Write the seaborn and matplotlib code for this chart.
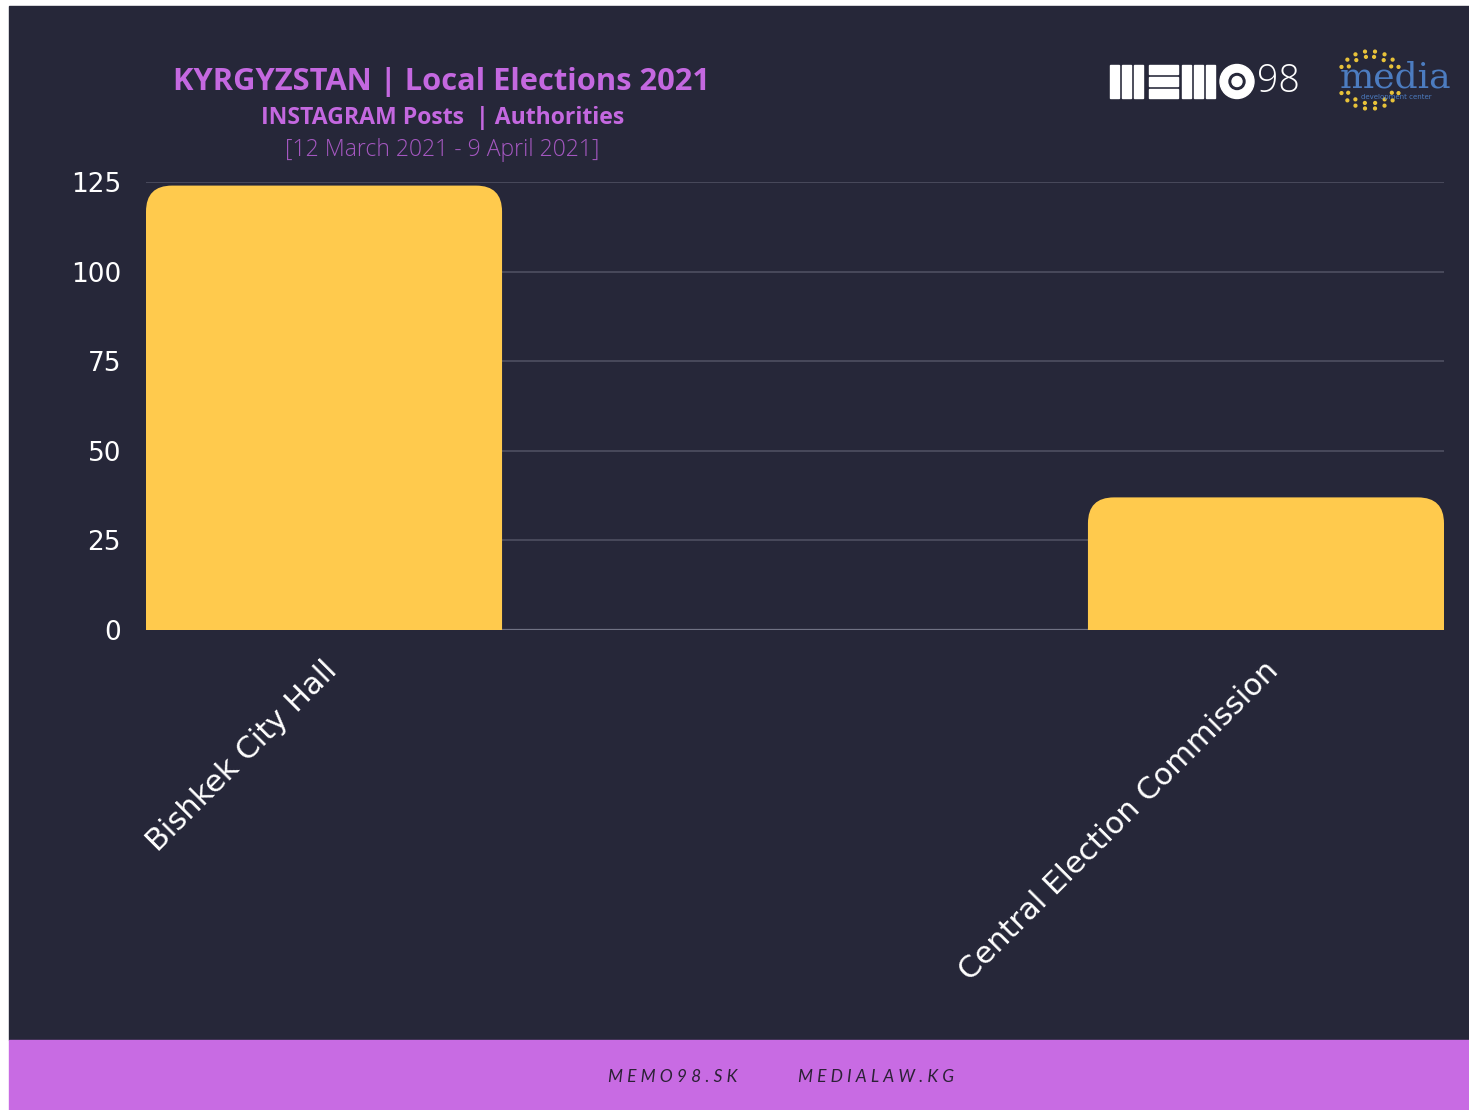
"""
plot.py
KYRGYZSTAN | Local Elections 2021 - posts Instagram des autorités.
"""

import numpy as np
import pandas as pd
import matplotlib
matplotlib.use("Agg")
import matplotlib.pyplot as plt
import matplotlib.transforms as mtransforms
from matplotlib.patches import Rectangle, Circle, FancyBboxPatch
import seaborn as sns

# ---------------------------------------------------------------------------
# DONNÉES
# ---------------------------------------------------------------------------

categories = ["Bishkek City Hall", "Central Election Commission"]
posts = [124, 37]
y_ticks = [0, 25, 50, 75, 100, 125]

# ---------------------------------------------------------------------------
# STYLE
# ---------------------------------------------------------------------------

W, H = 1469, 1110
BG = "#262739"
YELLOW = "#FFCA4D"
PURPLE = "#C86BE3"
TITLE_PURPLE = "#C468E0"
DATE_PURPLE = "#A457C0"
GRID = "#4B4C5E"
BAR_W = 0.378

sns.set_theme(style="dark")
plt.rcParams["font.family"] = ["DejaVu Sans"]

fig = plt.figure(figsize=(W / 100, H / 100), dpi=100, facecolor="white")

# transformation en pixels (origine en haut à gauche)
px = mtransforms.Affine2D().scale(1 / W, -1 / H).translate(0, 1) + fig.transFigure

# fond sombre + bandeau du bas
fig.patches.append(Rectangle((9, 6), W - 9, 1034, transform=px, color=BG, zorder=-10))
fig.patches.append(Rectangle((9, 1040), W - 9, 70, transform=px, color=PURPLE, zorder=-10))

# ---------------------------------------------------------------------------
# GRAPHIQUE
# ---------------------------------------------------------------------------

ax = fig.add_axes([146 / W, 1 - 630 / H, 1298 / W, 448 / H])
ax.set_facecolor("none")

df = pd.DataFrame({"Autorité": categories, "Posts": posts})
sns.barplot(data=df, x="Autorité", y="Posts", color=YELLOW, saturation=1,
            width=BAR_W, ax=ax, zorder=3)

ax.set_xlim(-BAR_W / 2, 1 + BAR_W / 2)
ax.set_ylim(0, 125)
ax.set_yticks(y_ticks)
ax.set_xlabel("")
ax.set_ylabel("")
ax.yaxis.grid(True, color=GRID, linewidth=1.3)
ax.xaxis.grid(False)
ax.set_axisbelow(True)
ax.axhline(0, color="#707284", linewidth=1.6, zorder=2)
for s in ax.spines.values():
    s.set_visible(False)

ax.tick_params(axis="y", length=0, pad=18, labelsize=19, labelcolor="white")
ax.tick_params(axis="x", length=0, pad=26, labelsize=22, labelcolor="white")
shift = mtransforms.ScaledTranslation(8 / 100, 0, fig.dpi_scale_trans)
for lab in ax.get_xticklabels():
    lab.set_rotation(45)
    lab.set_ha("right")
    lab.set_va("center")
    lab.set_rotation_mode("anchor")
    lab.set_transform(lab.get_transform() + shift)

# coins arrondis en haut des barres
x_per_px = (1 + BAR_W) / 1298
y_per_px = 125 / 448
r_px = 26
for p in list(ax.patches):
    x0, w, h = p.get_x(), p.get_width(), p.get_height()
    p.set_visible(False)
    rx = r_px * x_per_px
    ry = r_px * y_per_px
    ax.add_patch(FancyBboxPatch(
        (x0, -ry), w, h + ry,
        boxstyle=f"round,pad=0,rounding_size={rx}",
        mutation_aspect=ry / rx,
        facecolor=YELLOW, edgecolor="none", zorder=3,
    ))

# ---------------------------------------------------------------------------
# TITRES
# ---------------------------------------------------------------------------

fig.text(442, 82, "KYRGYZSTAN | Local Elections 2021", transform=px,
         ha="center", va="center", fontsize=22.2, fontweight="bold",
         color=TITLE_PURPLE, family=["Open Sans", "DejaVu Sans"])
fig.text(443, 118, "INSTAGRAM Posts  | Authorities", transform=px,
         ha="center", va="center", fontsize=16.6, fontweight="bold",
         color=TITLE_PURPLE, family=["Open Sans", "DejaVu Sans"])
fig.text(442, 150, "[12 March 2021 - 9 April 2021]", transform=px,
         ha="center", va="center", fontsize=16.6, fontweight="light",
         color=DATE_PURPLE, family=["Open Sans", "DejaVu Sans"])

# ---------------------------------------------------------------------------
# LOGOS
# ---------------------------------------------------------------------------

# MEMO98
for x in (1110, 1122, 1134):
    fig.patches.append(Rectangle((x, 65), 9, 33, transform=px, color="white"))
for y in (65, 77, 89):
    fig.patches.append(Rectangle((1149, y), 29, 9, transform=px, color="white"))
for x in (1182, 1194, 1206):
    fig.patches.append(Rectangle((x, 65), 9, 33, transform=px, color="white"))
fig.patches.append(Circle((1237, 81.5), 17, transform=px, color="white"))
fig.patches.append(Circle((1237, 81.5), 8, transform=px, color=BG))
fig.patches.append(Circle((1237, 81.5), 5, transform=px, color="white"))
fig.text(1278, 82, "98", transform=px, ha="center", va="center",
         fontsize=27, color="white", fontweight="light",
         family=["Open Sans", "DejaVu Sans"])

# media development center
fig.text(1396, 78, "media", transform=px, ha="center", va="center",
         fontsize=26, color="#4C7CC0", family=["DejaVu Serif"])
fig.text(1396, 97, "development center", transform=px, ha="center",
         va="center", fontsize=5, color="#4C7CC0")
for r, n in ((26, 16), (32, 20)):
    for a in np.linspace(0.55 * np.pi, 2.45 * np.pi, n):
        if abs(np.sin(a)) < 0.35:
            continue
        fig.patches.append(Circle((1370 + r * np.cos(a), 80 - r * np.sin(a) * 0.9),
                                  1.4, transform=px, color="#E9C33A"))

# ---------------------------------------------------------------------------
# BANDEAU
# ---------------------------------------------------------------------------

fig.text(673, 1077, " ".join("MEMO98.SK"), transform=px, ha="center",
         va="center", fontsize=12.5, style="italic", color="#2B2135",
         family=["Lato", "DejaVu Sans"])
fig.text(876, 1077, " ".join("MEDIALAW.KG"), transform=px, ha="center",
         va="center", fontsize=12.5, style="italic", color="#2B2135",
         family=["Lato", "DejaVu Sans"])

fig.savefig("out.png", dpi=100, facecolor=fig.get_facecolor())
